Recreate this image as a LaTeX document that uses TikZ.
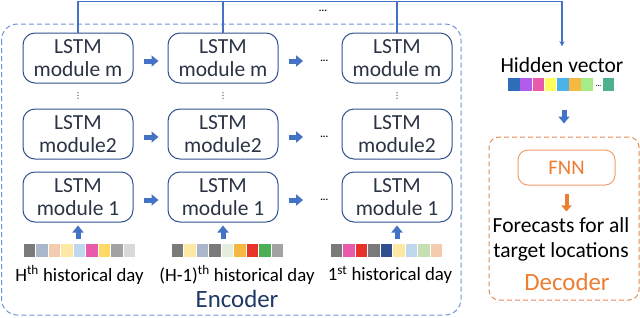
\documentclass[tikz,border=0pt]{standalone}
\usepackage{fontspec}
\setmainfont{Carlito}
\newfontfamily\dotfont{DejaVu Sans}
\usetikzlibrary{arrows.meta, positioning, calc}

\definecolor{boxblue}{HTML}{2F5290}
\definecolor{lstmtext}{HTML}{2A3444}
\definecolor{linkblue}{HTML}{4472C4}
\definecolor{encdash}{HTML}{6F93D3}
\definecolor{enctext}{HTML}{1F3864}
\definecolor{decorange}{HTML}{ED7D31}
\definecolor{decdash}{HTML}{E58A4E}
\definecolor{fnnline}{HTML}{EE9F6A}
% strip colours
\definecolor{cgray}{HTML}{7A7A7A}
\definecolor{cslate}{HTML}{ABB6CA}
\definecolor{cpeach}{HTML}{F4CBAE}
\definecolor{cyellowl}{HTML}{FDE8A4}
\definecolor{cbluel}{HTML}{C0D8EE}
\definecolor{cpink}{HTML}{E95AAA}
\definecolor{cyellow}{HTML}{FFD966}
\definecolor{cgraym}{HTML}{A3A3A3}
\definecolor{cgrayl}{HTML}{D9D9D9}
\definecolor{cgreenl}{HTML}{E4EFDB}
\definecolor{corange}{HTML}{F5B841}
\definecolor{cred}{HTML}{E8332A}
\definecolor{cgreen}{HTML}{4DAF55}
\definecolor{cnavy}{HTML}{2F4F8F}
\definecolor{cgreenm}{HTML}{C6E0B4}
% hidden vector colours
\definecolor{hblue}{HTML}{2E6DB8}
\definecolor{hpurple}{HTML}{B15CEA}
\definecolor{hpink}{HTML}{E95AAA}
\definecolor{hyellow}{HTML}{FFFF5C}
\definecolor{hsky}{HTML}{4DB2E8}
\definecolor{horange}{HTML}{F5B841}
\definecolor{hgreen}{HTML}{A6EB85}
\definecolor{hteal}{HTML}{4FB08F}

\begin{document}
\begin{tikzpicture}[
    x=1pt, y=-1pt,
    lstm/.style={
        rectangle,
        draw=boxblue,
        rounded corners=12pt,
        minimum width=110pt,
        minimum height=50pt,
        inner sep=0pt,
        align=center,
        text=lstmtext,
        font=\fontsize{21.5}{25}\selectfont,
        line width=1pt
    },
    fnn/.style={
        rectangle,
        draw=fnnline,
        rounded corners=10pt,
        minimum width=97pt,
        minimum height=35pt,
        text=decorange,
        font=\huge,
        line width=1pt
    },
    enc frame/.style={
        draw=encdash,
        dash pattern=on 5pt off 3pt,
        rounded corners=16pt,
        line width=1pt
    },
    dec frame/.style={
        rectangle,
        draw=decdash,
        dash pattern=on 5pt off 3pt,
        rounded corners=10pt,
        minimum width=150pt,
        minimum height=163pt,
        line width=1pt
    },
    cell/.style={
        rectangle,
        minimum width=11.5pt,
        minimum height=12.5pt,
        inner sep=0pt
    },
    big text/.style={
        font=\fontsize{21.5}{25}\selectfont,
        inner sep=0pt,
        align=center
    },
    day label/.style={
        font=\fontsize{18.8}{22}\selectfont,
        inner sep=0pt
    },
    hdots/.style={
        font=\normalsize\bfseries,
        inner sep=0pt
    },
    vdots/.style={
        font=\dotfont\footnotesize,
        inner sep=0pt
    },
    link/.style={
        draw=linkblue,
        line width=1.2pt
    },
    block arrow/.style={
        line width=5pt,
        linkblue,
        -{Triangle[length=7pt,width=11pt]}
    },
    small arrow/.style={
        line width=4pt,
        decorange,
        -{Triangle[length=6pt,width=10pt]}
    }
]

\useasboundingbox (0,0) rectangle (640,317);

% encoder frame
\draw[enc frame] (1.5,24) rectangle (461,315);

\node[lstm] (m1) at (78,58) {LSTM\\[-2pt]module m};
\node[lstm, right=34pt of m1] (m2) {LSTM\\[-2pt]module m};
\node[lstm, right=63pt of m2] (m3) {LSTM\\[-2pt]module m};

\node[lstm, below=25pt of m1] (b1) {LSTM\\[-2pt]module2};
\node[lstm, below=25pt of m2] (b2) {LSTM\\[-2pt]module2};
\node[lstm, below=25pt of m3] (b3) {LSTM\\[-2pt]module2};

\node[lstm, below=12pt of b1] (a1) {LSTM\\[-2pt]module 1};
\node[lstm, below=12pt of b2] (a2) {LSTM\\[-2pt]module 1};
\node[lstm, below=12pt of b3] (a3) {LSTM\\[-2pt]module 1};

% vertical dots
\node[vdots] (v1) at ($(m1.south)!0.5!(b1.north)$) {⋮};
\node[vdots] (v2) at ($(m2.south)!0.5!(b2.north)$) {⋮};
\node[vdots] (v3) at ($(m3.south)!0.5!(b3.north)$) {⋮};

% horizontal dots
\node[hdots, left=13pt of m3, yshift=-3pt] (hm) {...};
\node[hdots, left=13pt of b3, yshift=-3pt] (hb) {...};
\node[hdots, left=13pt of a3, yshift=-3pt] (ha) {...};
\node[hdots] (tdots) at (323,11) {...};

% recurrent arrows
\draw[block arrow, shorten <=10pt, shorten >=9pt] ([yshift=-3pt]m1.east) -- ([yshift=-3pt]m2.west);
\draw[block arrow, shorten <=10pt, shorten >=9pt] ([yshift=-3pt]b1.east) -- ([yshift=-3pt]b2.west);
\draw[block arrow, shorten <=10pt, shorten >=9pt] ([yshift=-3pt]a1.east) -- ([yshift=-3pt]a2.west);
\draw[block arrow, shorten <=10pt, shorten >=17pt] ([yshift=-3pt]m2.east) -- (hm);
\draw[block arrow, shorten <=10pt, shorten >=17pt] ([yshift=-3pt]b2.east) -- (hb);
\draw[block arrow, shorten <=10pt, shorten >=17pt] ([yshift=-3pt]a2.east) -- (ha);

% input strips
\foreach \c [count=\i] in {cgray,cslate,cpeach,cyellowl,cbluel,cpink,cyellow,cgraym,cgrayl}
    \node[cell, fill=\c] (s1-\i) at ({29.3+12.55*(\i-1)},250.5) {};
\foreach \c [count=\i] in {cgray,cyellowl,cslate,cgray,cgreenl,corange,cred,cgreen,cgraym}
    \node[cell, fill=\c] (s2-\i) at ({177.3+12.55*(\i-1)},250.5) {};
\foreach \c [count=\i] in {cgray,cpink,cred,cgray,cnavy,cyellowl,cbluel,cgreenm,cpeach}
    \node[cell, fill=\c] (s3-\i) at ({336.3+12.55*(\i-1)},250.5) {};

\draw[block arrow, shorten <=5pt, shorten >=3pt] (a1.south |- s1-5.north) -- (a1.south);
\draw[block arrow, shorten <=5pt, shorten >=3pt] (a2.south |- s2-5.north) -- (a2.south);
\draw[block arrow, shorten <=5pt, shorten >=3pt] (a3.south |- s3-5.north) -- (a3.south);

\node[day label] (d1) at (79.5,275) {H\textsuperscript{th} historical day};
\node[day label] (d2) at (237,275) {(H-1)\textsuperscript{th} historical day};
\node[day label] (d3) at (390,275) {1\textsuperscript{st} historical day};
\node[font=\Huge, text=enctext, inner sep=0pt] (enc) at (237,299) {Encoder};

% hidden vector
\node[big text] (hid) at (562,65) {Hidden vector};
\foreach \c [count=\i] in {hblue,hpurple,hpink,hyellow,hsky,horange,hgreen}
    \node[cell, fill=\c] (h-\i) at ({514+12.2*(\i-1)},84.5) {};
\node[font=\scriptsize\bfseries, inner sep=0pt] (hd) at (598.5,86) {...};
\node[cell, fill=hteal] (h-8) at (608.5,84.5) {};

\coordinate (top) at (562,1.5);
\draw[link, -{Stealth[length=5pt,width=5pt]}, shorten >=11pt] (m1.north) |- (top) -- (hid.north);
\draw[link] (m2.north) -- (m2.north |- top);
\draw[link] (m3.north) -- (m3.north |- top);

% decoder
\node[dec frame] (dec) at (564,218.5) {};
\node[fnn] (fnn) at (566.5,167.5) {FNN};
\draw[block arrow, shorten <=19pt, shorten >=13pt] (dec.north |- h-4.south) -- (dec.north);

\node[big text] (fc) at (561,239.5) {Forecasts for all\\target locations};
\node[font=\Huge, text=decorange, inner sep=0pt] (dlab) at (567,282) {Decoder};
\draw[small arrow, shorten <=8pt, shorten >=6pt] (fnn.south) -- (fnn.south |- fc.north);

\end{tikzpicture}
\end{document}
